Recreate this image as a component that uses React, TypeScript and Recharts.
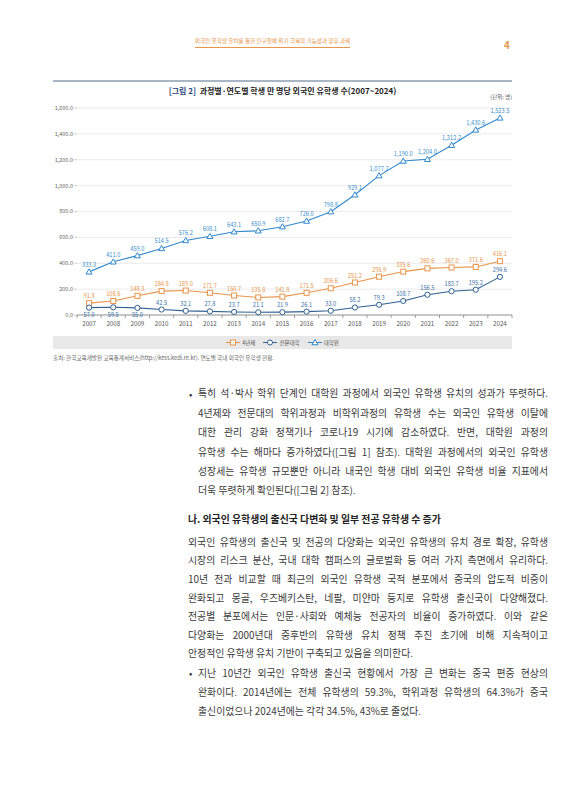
import React from 'react';
import { CartesianGrid, LabelList, Line, LineChart, XAxis, YAxis } from 'recharts';

const years = ['2007', '2008', '2009', '2010', '2011', '2012', '2013', '2014', '2015', '2016', '2017', '2018', '2019', '2020', '2021', '2022', '2023', '2024'];
const fourYear = [91.8, 108.6, 148.3, 184.8, 189.0, 171.7, 150.7, 135.8, 141.8, 171.5, 206.6, 251.2, 295.9, 335.6, 360.6, 367.0, 371.6, 416.1];
const college = [57.0, 59.5, 55.0, 42.5, 32.1, 27.8, 23.7, 21.1, 21.9, 26.1, 33.0, 58.2, 79.3, 108.7, 156.5, 183.7, 195.2, 294.6];
const graduate = [333.3, 411.0, 459.0, 514.5, 576.2, 608.1, 643.1, 650.9, 682.7, 726.0, 798.8, 929.1, 1077.2, 1190.0, 1204.0, 1312.2, 1430.6, 1523.5];
const yTicks = [0, 200, 400, 600, 800, 1000, 1200, 1400, 1600];
const seriesNames = ['4년제', '전문대학', '대학원'];

const bullet1 = [
  '특히 석·박사 학위 단계인 대학원 과정에서 외국인 유학생 유치의 성과가 뚜렷하다.',
  '4년제와 전문대의 학위과정과 비학위과정의 유학생 수는 외국인 유학생 이탈에',
  '대한 관리 강화 정책기나 코로나19 시기에 감소하였다. 반면, 대학원 과정의',
  '유학생 수는 해마다 증가하였다([그림 1] 참조). 대학원 과정에서의 외국인 유학생',
  '성장세는 유학생 규모뿐만 아니라 내국인 학생 대비 외국인 유학생 비율 지표에서',
  '더욱 뚜렷하게 확인된다([그림 2] 참조).',
];
const heading = '나. 외국인 유학생의 출신국 다변화 및 일부 전공 유학생 수 증가';
const paragraph = [
  '외국인 유학생의 출신국 및 전공의 다양화는 외국인 유학생의 유치 경로 확장, 유학생',
  '시장의 리스크 분산, 국내 대학 캠퍼스의 글로벌화 등 여러 가지 측면에서 유리하다.',
  '10년 전과 비교할 때 최근의 외국인 유학생 국적 분포에서 중국의 압도적 비중이',
  '완화되고 몽골, 우즈베키스탄, 네팔, 미얀마 등지로 유학생 출신국이 다양해졌다.',
  '전공별 분포에서는 인문·사회와 예체능 전공자의 비율이 증가하였다. 이와 같은',
  '다양화는 2000년대 중후반의 유학생 유치 정책 추진 초기에 비해 지속적이고',
  '안정적인 유학생 유치 기반이 구축되고 있음을 의미한다.',
];
const bullet2 = [
  '지난 10년간 외국인 유학생 출신국 현황에서 가장 큰 변화는 중국 편중 현상의',
  '완화이다. 2014년에는 전체 유학생의 59.3%, 학위과정 유학생의 64.3%가 중국',
  '출신이었으나 2024년에는 각각 34.5%, 43%로 줄었다.',
];

const data = years.map((year, i) => ({
  year,
  fourYear: fourYear[i],
  college: college[i],
  graduate: graduate[i],
}));

const FONT = '"Noto Sans CJK KR", "Noto Sans", sans-serif';
const ORANGE = '#e8944a';
const NAVY = '#2f6090';
const BLUE = '#3189cc';

const W = 566;
const H = 340;
const PLOT_LEFT = 77;
const PLOT_RIGHT = 512;
const PLOT_TOP = 108;
const PLOT_BOTTOM = 315;
const HALF_BAND = (PLOT_RIGHT - PLOT_LEFT) / years.length / 2;
const BODY_FONT = 9.9;

const fmt = (v: number) =>
  v.toLocaleString('en-US', { minimumFractionDigits: 1, maximumFractionDigits: 1 });

const YearTick = (props: any) => {
  const { x, y, payload, index } = props;
  return (
    <g>
      <line x1={x - HALF_BAND} y1={y} x2={x - HALF_BAND} y2={y + 3} stroke="#999" />
      {index === years.length - 1 && (
        <line x1={x + HALF_BAND} y1={y} x2={x + HALF_BAND} y2={y + 3} stroke="#999" />
      )}
      <text x={x} y={y + 10.5} textAnchor="middle" fontSize={6.2} fill="#555" fontFamily={FONT}>
        {payload.value}
      </text>
    </g>
  );
};

const squareDot = (p: any) => (
  <rect key={`sq-${p.index}`} x={p.cx - 2.5} y={p.cy - 2.5} width={5} height={5} fill="#fff" stroke={ORANGE} strokeWidth={1} />
);
const circleDot = (p: any) => (
  <circle key={`ci-${p.index}`} cx={p.cx} cy={p.cy} r={2.6} fill="#fff" stroke={NAVY} strokeWidth={1} />
);
const triangleDot = (p: any) => (
  <path
    key={`tr-${p.index}`}
    d={`M${p.cx},${p.cy - 3} L${p.cx + 3},${p.cy + 2.2} L${p.cx - 3},${p.cy + 2.2} Z`}
    fill="#fff"
    stroke={BLUE}
    strokeWidth={1}
  />
);

// 값 라벨: 전문대학 첫 3개는 점 아래쪽
const makeLabel = (color: string, belowCount = 0) => (p: any) => {
  const x = p.x ?? p.viewBox?.x;
  const y = p.y ?? p.viewBox?.y;
  const below = p.index < belowCount;
  return (
    <text key={`lb-${p.index}`} x={x} y={below ? y + 9.5 : y - 5} textAnchor="middle" fontSize={5.7} fill={color} fontFamily={FONT}>
      {fmt(Number(p.value))}
    </text>
  );
};

const LegendIcon = ({ kind, color }: { kind: number; color: string }) => (
  <svg width={14} height={7} style={{ marginRight: 2 }}>
    <line x1={0} y1={3.5} x2={14} y2={3.5} stroke={color} strokeWidth={1} />
    {kind === 0 && <rect x={4.5} y={1} width={5} height={5} fill="#fff" stroke={color} />}
    {kind === 1 && <circle cx={7} cy={3.5} r={2.5} fill="#fff" stroke={color} />}
    {kind === 2 && <path d="M7,0.5 L10,5.7 L4,5.7 Z" fill="#fff" stroke={color} />}
  </svg>
);

const TextBlock = ({
  lines,
  left,
  right,
  start,
  lh,
  bold,
}: {
  lines: string[];
  left: number;
  right: number;
  start: number;
  lh: number;
  bold?: boolean;
}) => (
  <>
    {lines.map((t, i) => (
      <div
        key={i}
        style={{
          position: 'absolute',
          left,
          width: right - left,
          top: start + i * lh - lh / 2,
          height: lh,
          lineHeight: `${lh}px`,
          fontSize: BODY_FONT,
          fontWeight: bold ? 700 : 400,
          color: bold ? '#222' : '#3a3a3a',
          textAlign: 'justify',
          textAlignLast: i < lines.length - 1 ? 'justify' : 'left',
          wordBreak: 'keep-all',
          whiteSpace: 'nowrap',
        }}
      >
        {t}
      </div>
    ))}
  </>
);

const Bullet = ({ center }: { center: number }) => (
  <div style={{ position: 'absolute', left: 189, top: center - 6, height: 12, lineHeight: '12px', fontSize: BODY_FONT, color: '#3a3a3a' }}>•</div>
);

export default function App() {
  const colors = [ORANGE, NAVY, BLUE];
  return (
    <div style={{ position: 'absolute', left: 0, top: 0, width: W, height: 800, background: '#fff', fontFamily: FONT, overflow: 'hidden' }}>
      {/* 머리글 */}
      <div style={{ position: 'absolute', left: 150, width: 245, top: 37, textAlign: 'center', fontSize: 5.6, color: ORANGE }}>
        <span style={{ borderBottom: `0.8px solid ${ORANGE}`, paddingBottom: 1.5 }}>
          외국인 유학생 유치를 통한 인구절벽 위기 극복의 가능성과 향후 과제
        </span>
      </div>
      <div style={{ position: 'absolute', left: 504, top: 37, fontSize: 10, fontWeight: 700, color: ORANGE }}>4</div>

      {/* 그림 제목 */}
      <div style={{ position: 'absolute', left: 53, top: 80, width: 459, height: 2, background: '#a9b6c6' }} />
      <div style={{ position: 'absolute', left: 53, width: 459, top: 85, textAlign: 'center', fontSize: 8, fontWeight: 700, color: '#222' }}>
        <span style={{ color: '#1f3f7a' }}>[그림 2]</span>&nbsp; 과정별·연도별 학생 만 명당 외국인 유학생 수(2007~2024)
      </div>
      <div style={{ position: 'absolute', right: W - 512, top: 93, fontSize: 5.5, color: '#555' }}>(단위: 명)</div>

      <div style={{ position: 'absolute', left: 0, top: 0 }}>
        <LineChart
          width={W}
          height={H}
          data={data}
          margin={{ top: PLOT_TOP, right: W - PLOT_RIGHT, bottom: H - PLOT_BOTTOM - 20, left: 0 }}
        >
          <CartesianGrid vertical={false} stroke="#e6e6e6" strokeWidth={0.8} />
          <XAxis
            dataKey="year"
            height={20}
            interval={0}
            tickSize={0}
            tickMargin={0}
            axisLine={{ stroke: '#999' }}
            tickLine={false}
            tick={<YearTick />}
            padding={{ left: HALF_BAND, right: HALF_BAND }}
          />
          <YAxis
            width={PLOT_LEFT}
            domain={[0, 1600]}
            ticks={yTicks}
            interval={0}
            tickFormatter={fmt}
            axisLine={false}
            tickLine={{ stroke: '#cfcfcf' }}
            tickSize={3}
            tickMargin={1}
            tick={{ fontSize: 5.5, fill: '#666', fontFamily: FONT }}
          />
          <Line dataKey="fourYear" name={seriesNames[0]} stroke={ORANGE} strokeWidth={1.1} dot={squareDot} isAnimationActive={false}>
            <LabelList dataKey="fourYear" content={makeLabel(ORANGE)} />
          </Line>
          <Line dataKey="college" name={seriesNames[1]} stroke={NAVY} strokeWidth={1.1} dot={circleDot} isAnimationActive={false}>
            <LabelList dataKey="college" content={makeLabel('#3a70a6', 3)} />
          </Line>
          <Line dataKey="graduate" name={seriesNames[2]} stroke={BLUE} strokeWidth={1.1} dot={triangleDot} isAnimationActive={false}>
            <LabelList dataKey="graduate" content={makeLabel('#3a8fd0')} />
          </Line>
        </LineChart>
      </div>

      {/* 범례 */}
      <div
        style={{
          position: 'absolute',
          left: 53,
          top: 336,
          width: 459,
          height: 13,
          background: '#e8e8e8',
          display: 'flex',
          justifyContent: 'center',
          alignItems: 'center',
          gap: 8,
          fontSize: 5.5,
          color: '#555',
        }}
      >
        {seriesNames.map((n, i) => (
          <span key={n} style={{ display: 'flex', alignItems: 'center' }}>
            <LegendIcon kind={i} color={colors[i]} />
            {n}
          </span>
        ))}
      </div>
      <div style={{ position: 'absolute', left: 53, top: 354, fontSize: 5.6, color: '#666' }}>
        출처: 한국교육개발원 교육통계서비스(http://kess.kedi.re.kr). 연도별 국내 외국인 유학생 현황.
      </div>

      {/* 본문 */}
      <Bullet center={394} />
      <TextBlock lines={bullet1} left={198} right={548} start={394} lh={19.4} />
      <TextBlock lines={[heading]} left={188} right={548} start={519} lh={20} bold />
      <TextBlock lines={paragraph} left={188} right={548} start={542} lh={18.6} />
      <Bullet center={673} />
      <TextBlock lines={bullet2} left={198} right={548} start={673} lh={19} />
    </div>
  );
}
